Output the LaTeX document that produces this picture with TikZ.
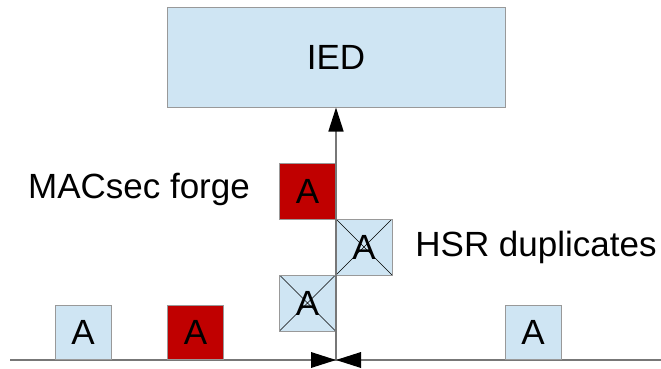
\documentclass[tikz,border=0pt]{standalone}
\usepackage{fontspec}
\setmainfont{Liberation Sans}
\usetikzlibrary{arrows.meta}
\definecolor{paleblue}{HTML}{CFE5F3}
\definecolor{forgered}{HTML}{C00000}
\definecolor{edgegray}{HTML}{999999}
\definecolor{linegray}{HTML}{777777}
\tikzset{
	frame/.style={draw=edgegray, line width=1pt, fill=paleblue, inner sep=0pt, font=\fontsize{35}{40}\selectfont},
	pkt/.style={frame, minimum width=56pt, minimum height=56pt},
	forged/.style={pkt, fill=forgered},
	dup/.style={pkt, path picture={\draw[black, line width=0.6pt] (path picture bounding box.north west) -- (path picture bounding box.south east) (path picture bounding box.north east) -- (path picture bounding box.south west);}},
	lbl/.style={font=\fontsize{35}{40}\selectfont, inner sep=0pt},
	wire/.style={draw=linegray, line width=1.5pt},
	tip/.style={fill=black}
}

\begin{document}
\begin{tikzpicture}[x=1pt, y=-1pt]
	\useasboundingbox (0, 0) rectangle (661, 369);
	% receiving device
	\node(ied)[frame, minimum width=338pt, minimum height=99pt] at (336, 57.5) {IED};
	% bus line and tap
	\coordinate(west) at (10, 360);
	\coordinate(east) at (661, 360);
	\coordinate(tap) at (336, 360);
	\draw[wire] (west) -- (east);
	% frames on the wire
	\node(a1)[pkt, minimum height=54pt, anchor=south] at (83, 360) {A};
	\node(a2)[forged, minimum height=54pt, anchor=south] at (195.5, 360) {A};
	\node(a3)[pkt, minimum height=54pt, anchor=south] at (533, 360) {A};
	% frames going up to the IED
	\node(dup2)[dup] at (307.5, 303) {A};
	\node(dup1)[dup] at (364, 247) {A};
	\node(fake)[forged] at (307.5, 191) {A};
	\draw[wire, -{Triangle[length=24pt, width=15pt, color=black, fill=black]}] (tap) -- (ied.south);
	% arrivals from both ring directions
	\fill[tip] (tap) -- ++(-25, -8) -- ++(0, 16) -- cycle;
	\fill[tip] (tap) -- ++(25, -8) -- ++(0, 16) -- cycle;
	% labels
	\node(forge)[lbl] at (139, 189) {MACsec forge};
	\node(hsr)[lbl] at (536, 247) {HSR duplicates};
\end{tikzpicture}
\end{document}
